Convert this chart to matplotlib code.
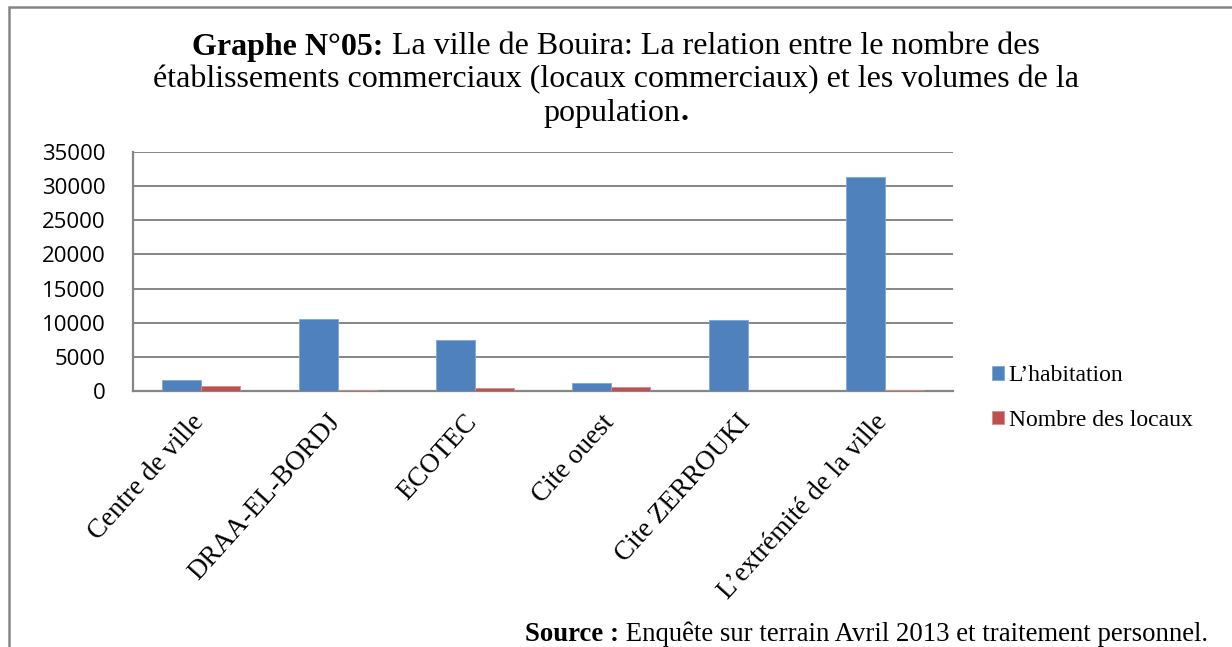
import matplotlib.pyplot as plt
import matplotlib.transforms as mtransforms
import numpy as np
from matplotlib.patches import Rectangle

# values
quartiers = ["Centre de ville", "DRAA-EL-BORDJ", "ECOTEC", "Cite ouest",
             "Cite ZERROUKI", "L\u2019extr\u00e9mit\u00e9 de la ville"]
habitation = [1600, 10600, 7500, 1200, 10450, 31300]
locaux = [750, 150, 450, 650, 30, 150]
y_ticks = [0, 5000, 10000, 15000, 20000, 25000, 30000, 35000]

blue = "#4f81bd"
red = "#c0504d"
grid_grey = "#868686"
serif = "Liberation Serif"

fig = plt.figure(figsize=(12.32, 6.47), dpi=100)
W, H = 1232, 647

# outer frame of the picture (runs off the right and bottom edges)
fig.patches.append(Rectangle((8.5 / W, -0.1), 1.2, 1 - 6.5 / H + 0.1,
                             transform=fig.transFigure, fill=False,
                             edgecolor=grid_grey, linewidth=1.8))

# plot area in pixels: left 133, right 953, top 152, bottom 391
ax = fig.add_axes([133 / W, 1 - 391 / H, (953 - 133) / W, (391 - 152) / H])

x = np.arange(len(quartiers))
w = 0.285
ax.bar(x - w / 2, habitation, w, color=blue, edgecolor="#7ea6d8",
       linewidth=0.6, label="L\u2019habitation", zorder=3)
ax.bar(x + w / 2, locaux, w, color=red, edgecolor="#d98c8a",
       linewidth=0.6, label="Nombre des locaux", zorder=3)

ax.set_xlim(-0.5, len(quartiers) - 0.5)
ax.set_ylim(0, 35000)
ax.set_yticks(y_ticks)
ax.set_yticklabels([str(v) for v in y_ticks], fontfamily="Open Sans", fontsize=16)
ax.yaxis.grid(True, color=grid_grey, linewidth=1.4, zorder=0)
ax.tick_params(axis="y", length=0, pad=20)
ax.tick_params(axis="x", length=0)
for s in ["top", "right"]:
    ax.spines[s].set_visible(False)
for s in ["left", "bottom"]:
    ax.spines[s].set_color(grid_grey)
    ax.spines[s].set_linewidth(1.6)

ax.set_xticks(x)
ax.set_xticklabels(quartiers, rotation=48, ha="right", va="top",
                   rotation_mode="anchor", fontfamily=serif, fontsize=19.5)
shift = mtransforms.ScaledTranslation(-0.11, -0.14, fig.dpi_scale_trans)
for lab in ax.get_xticklabels():
    lab.set_transform(lab.get_transform() + shift)

ax.legend(loc="center left", bbox_to_anchor=(1.022, -0.03), frameon=False,
          prop={"family": serif, "size": 17},
          handlelength=0.5, handleheight=0.5, handletextpad=0.2,
          labelspacing=1.0)

# title: bold lead then regular text, centred line by line
fs = 23
lines = [
    ("Graphe N\u00b005:", " La ville de Bouira: La relation entre le nombre des", ""),
    ("", "\u00e9tablissements commerciaux (locaux commerciaux) et les volumes de la", ""),
    ("", "population", "."),
]
renderer = fig.canvas.get_renderer()
ys = [47, 80, 113]
for (bold, normal, tail), yp in zip(lines, ys):
    yy = 1 - yp / H
    parts = [(bold, "bold"), (normal, "normal"), (tail, "bold")]
    texts = []
    total = 0
    for s, wt in parts:
        if not s:
            continue
        t = fig.text(0, yy, s, fontfamily=serif, fontsize=fs, fontweight=wt, va="center")
        wd = t.get_window_extent(renderer).width
        texts.append((t, wd))
        total += wd
    x0 = (W - total) / 2
    for t, wd in texts:
        t.set_x(x0 / W)
        x0 += wd

# source line at the bottom, clipped by the picture edge
src_b = fig.text(525 / W, 1 - 641 / H, "Source :", fontfamily=serif,
                 fontsize=19.3, fontweight="bold", va="baseline")
wsb = src_b.get_window_extent(renderer).width
fig.text((525 + wsb) / W, 1 - 641 / H,
         " Enqu\u00eate sur terrain Avril 2013 et traitement personnel.",
         fontfamily=serif, fontsize=19.3, va="baseline")

fig.savefig("out.png", dpi=100)
